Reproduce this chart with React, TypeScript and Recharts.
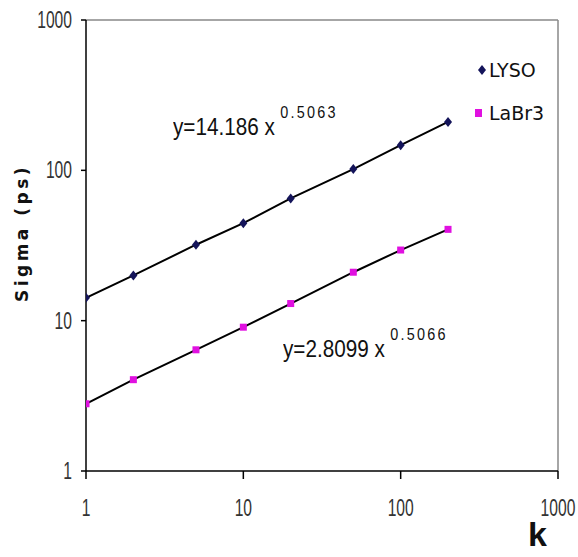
import { LineChart, Line, XAxis, YAxis, ReferenceLine } from "recharts";

const kValues = [1, 2, 5, 10, 20, 50, 100, 200];
const lyso = [14.2, 20, 32, 44.5, 65, 102, 147, 210];
const labr3 = [2.8, 4.05, 6.4, 9.05, 13, 21, 29.5, 40.5];
const xTicks = [1, 10, 100, 1000];
const yTicks = [1, 10, 100, 1000];

const LYSO_COLOR = "#14145a";
const LABR_COLOR = "#e010e0";
const FONT = "'Liberation Sans', Arial, sans-serif";

const data = kValues.map((k, i) => ({ k, lyso: lyso[i], labr3: labr3[i] }));

// condensed tick labels (the original uses a narrow face)
function NarrowTick(props: any) {
  const { x, y, payload, textAnchor, verticalAnchor } = props;
  const dy = verticalAnchor === "start" ? 33 : 8;
  return (
    <g transform={`translate(${x},${y})`}>
      <text transform="scale(0.68,1)" textAnchor={textAnchor} dy={dy} fontSize={23} fill="#333" fontFamily={FONT}>
        {payload.value}
      </text>
    </g>
  );
}

function Diamond(props: any) {
  const { cx, cy } = props;
  if (cx == null || cy == null) return null;
  return <path d={`M${cx},${cy - 5}L${cx + 4},${cy}L${cx},${cy + 5}L${cx - 4},${cy}Z`} fill={LYSO_COLOR} />;
}

function Square(props: any) {
  const { cx, cy } = props;
  if (cx == null || cy == null) return null;
  return <rect x={cx - 3.5} y={cy - 3.5} width={7} height={7} fill={LABR_COLOR} />;
}

function LegendBox() {
  const row = { display: "flex", alignItems: "center", height: 43, fontFamily: "'DejaVu Sans', sans-serif", fontSize: 19, color: "#111" } as const;
  return (
    <div style={{ position: "absolute", left: 474, top: 48 }}>
      <div style={row}>
        <svg width={14} height={14} style={{ marginRight: 1 }}>
          <path d="M8,2L12,7L8,12L4,7Z" fill={LYSO_COLOR} />
        </svg>
        LYSO
      </div>
      <div style={row}>
        <svg width={14} height={14} style={{ marginRight: 1 }}>
          <rect x={1} y={3} width={7} height={8} fill={LABR_COLOR} />
        </svg>
        LaBr3
      </div>
    </div>
  );
}

function Equation({ left, top, base, exp }: { left: number; top: number; base: string; exp: string }) {
  return (
    <div
      style={{
        position: "absolute",
        left,
        top,
        fontFamily: FONT,
        fontSize: 23,
        color: "#111",
        whiteSpace: "nowrap",
        transform: "scale(0.9,1)",
        transformOrigin: "left top",
      }}
    >
      {base}
      <span style={{ position: "relative", top: -17, marginLeft: 6, fontSize: 16, letterSpacing: 2.5 }}>{exp}</span>
    </div>
  );
}

export default function App() {
  return (
    <div style={{ position: "absolute", left: 0, top: 0, width: 578, height: 557, background: "#fff" }}>
      <LineChart width={578} height={557} data={data} margin={{ top: 20, right: 20, left: 10, bottom: 46 }}>
        <XAxis
          dataKey="k"
          type="number"
          scale="log"
          domain={[1, 1000]}
          ticks={xTicks}
          allowDataOverflow
          height={40}
          tick={<NarrowTick />}
          tickSize={8}
          tickMargin={4}
          stroke="#000"
          strokeWidth={1.5}
        />
        <YAxis
          type="number"
          scale="log"
          domain={[1, 1000]}
          ticks={yTicks}
          allowDataOverflow
          width={76}
          tick={<NarrowTick />}
          tickSize={5}
          tickMargin={9}
          stroke="#000"
          strokeWidth={1.5}
        />
        <ReferenceLine y={1000} stroke="#888" strokeWidth={1.5} />
        <ReferenceLine x={1000} stroke="#888" strokeWidth={1.5} />
        <Line dataKey="lyso" name="LYSO" stroke="#000" strokeWidth={2} dot={<Diamond />} isAnimationActive={false} />
        <Line dataKey="labr3" name="LaBr3" stroke="#000" strokeWidth={2} dot={<Square />} isAnimationActive={false} />
      </LineChart>
      <LegendBox />
      <Equation left={173} top={114} base="y=14.186 x" exp="0.5063" />
      <Equation left={283} top={336} base="y=2.8099 x" exp="0.5066" />
      <div
        style={{
          position: "absolute",
          left: 22,
          top: 233,
          transform: "translate(-50%, -50%) rotate(-90deg)",
          fontFamily: "'DejaVu Sans', sans-serif",
          fontWeight: "bold",
          fontSize: 17,
          letterSpacing: 3.5,
          whiteSpace: "nowrap",
          color: "#111",
        }}
      >
        Sigma (ps)
      </div>
      <div
        style={{
          position: "absolute",
          left: 528,
          top: 515,
          fontFamily: FONT,
          fontWeight: "bold",
          fontSize: 34,
          color: "#111",
        }}
      >
        k
      </div>
    </div>
  );
}
